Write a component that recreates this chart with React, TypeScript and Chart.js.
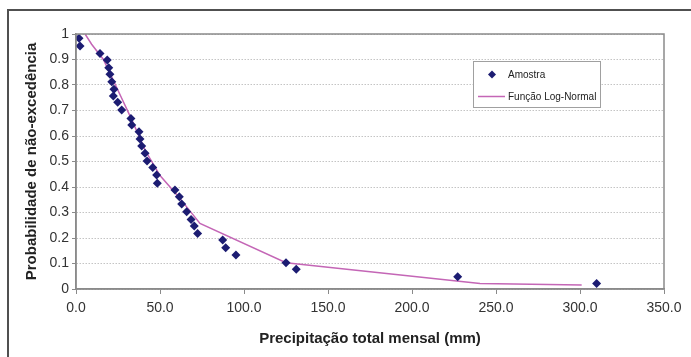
import React, { useEffect, useRef } from "react";
import { Chart, registerables } from "chart.js";

Chart.register(...registerables);

// Sample (Amostra) points: precipitation (mm) and non-exceedance probability
const sampleX = [1.8, 2.4, 14.3, 18.6, 19.5, 20.2, 21.3, 22.6, 22.2, 24.8, 27.2, 32.7, 33.2, 37.5, 38.1, 39.1, 41.1, 42.3, 45.7, 48.0, 48.4, 58.9, 61.5, 62.9, 65.9, 68.5, 70.4, 72.4, 87.3, 89.1, 95.2, 125.0, 131.1, 227.2, 309.9];
const sampleY = [0.983, 0.953, 0.924, 0.898, 0.868, 0.842, 0.813, 0.783, 0.757, 0.732, 0.702, 0.669, 0.643, 0.617, 0.588, 0.561, 0.532, 0.502, 0.476, 0.447, 0.415, 0.388, 0.362, 0.333, 0.303, 0.273, 0.247, 0.218, 0.192, 0.162, 0.133, 0.103, 0.077, 0.048, 0.022];

// Log-Normal function line
const fitX = [5.4, 9.3, 16.3, 24.2, 33.1, 41.1, 50.0, 60.0, 73.8, 125.0, 240.5, 301.0];
const fitY = [1.0, 0.96, 0.9, 0.79, 0.665, 0.545, 0.445, 0.37, 0.257, 0.103, 0.022, 0.016];

const seriesNames = ["Amostra", "Função Log-Normal"];
const xTitle = "Precipitação total mensal (mm)";
const yTitle = "Probabilidade de não-excedência";

const markerColor = "#1c1c72";
const lineColor = "#c466b6";
const fontFamily = "'Liberation Sans', Arial, sans-serif";

export default function App() {
  const ref = useRef<HTMLCanvasElement | null>(null);
  useEffect(() => {
    if (!ref.current) return;
    const frame = {
      id: "frame",
      afterDraw(chart: any) {
        const { ctx, chartArea } = chart;
        ctx.save();
        ctx.strokeStyle = "#8a8a8a";
        ctx.lineWidth = 1.5;
        ctx.strokeRect(chartArea.left, chartArea.top, chartArea.right - chartArea.left, chartArea.bottom - chartArea.top);
        // legend
        const lx = 473.5, ly = 61.5, lw = 127, lh = 46;
        ctx.fillStyle = "#ffffff";
        ctx.fillRect(lx, ly, lw, lh);
        ctx.strokeStyle = "#a0a0a0";
        ctx.lineWidth = 1;
        ctx.strokeRect(lx, ly, lw, lh);
        ctx.fillStyle = markerColor;
        ctx.beginPath();
        const dx = 492, dy = 74.5, r = 4;
        ctx.moveTo(dx, dy - r);
        ctx.lineTo(dx + r, dy);
        ctx.lineTo(dx, dy + r);
        ctx.lineTo(dx - r, dy);
        ctx.closePath();
        ctx.fill();
        ctx.strokeStyle = lineColor;
        ctx.lineWidth = 1.5;
        ctx.beginPath();
        ctx.moveTo(478, 96.5);
        ctx.lineTo(505, 96.5);
        ctx.stroke();
        ctx.fillStyle = "#222";
        ctx.font = "10px " + fontFamily;
        ctx.textBaseline = "middle";
        ctx.fillText(seriesNames[0], 508, 75);
        ctx.fillText(seriesNames[1], 508, 97);
        ctx.restore();
      },
    };
    const chart = new Chart(ref.current, {
      type: "scatter",
      data: {
        datasets: [
          {
            label: seriesNames[0],
            data: sampleX.map((x, i) => ({ x, y: sampleY[i] })),
            pointStyle: "rectRot",
            pointRadius: 4.5,
            backgroundColor: markerColor,
            borderColor: markerColor,
            borderWidth: 0,
            showLine: false,
          },
          {
            label: seriesNames[1],
            data: fitX.map((x, i) => ({ x, y: fitY[i] })),
            showLine: true,
            pointRadius: 0,
            borderColor: lineColor,
            borderWidth: 1.5,
            tension: 0,
          },
        ],
      },
      options: {
        animation: false,
        responsive: false,
        maintainAspectRatio: false,
        layout: { padding: { left: 23, right: 27, top: 34, bottom: 9 } },
        plugins: { legend: { display: false }, tooltip: { enabled: false } },
        scales: {
          x: {
            type: "linear",
            min: 0,
            max: 350,
            afterFit: (s: any) => { s.height = 357 - 289 - 9; },
            ticks: {
              stepSize: 50,
              callback: (v: any) => Number(v).toFixed(1),
              color: "#333",
              font: { family: fontFamily, size: 14 },
              padding: 6,
              maxRotation: 0,
            },
            grid: { drawOnChartArea: false, drawTicks: true, tickLength: 5, color: "#8a8a8a" },
            border: { color: "#8a8a8a", width: 1.5 },
            title: {
              display: true,
              text: xTitle,
              color: "#222",
              font: { family: fontFamily, size: 15, weight: "bold" },
              padding: { top: 2, bottom: 0 },
            },
          },
          y: {
            type: "linear",
            min: 0,
            max: 1,
            afterFit: (s: any) => { s.width = 76 - 23; },
            ticks: {
              stepSize: 0.1,
              callback: (v: any) => {
                const r = Math.round(Number(v) * 10) / 10;
                return r === 0 ? "0" : r === 1 ? "1" : r.toFixed(1);
              },
              color: "#333",
              font: { family: fontFamily, size: 14 },
              padding: 3,
            },
            grid: {
              color: "#c4c4c4",
              tickLength: 4,
              tickColor: "#8a8a8a",
              lineWidth: 1,
            } as any,
            border: { color: "#8a8a8a", width: 1.5, dash: [1.5, 1.5] } as any,
            title: {
              display: true,
              text: yTitle,
              color: "#222",
              font: { family: fontFamily, size: 15, weight: "bold" },
              padding: { top: 0, bottom: 0 },
            },
          },
        },
      },
      plugins: [frame],
    } as any);
    return () => chart.destroy();
  }, []);
  return (
    <div style={{ position: "fixed", left: 0, top: 0, width: 691, height: 357, overflow: "hidden", background: "#fff" }}>
      <div style={{ position: "absolute", left: 7, top: 9, width: 720, height: 420, border: "2px solid #505050", boxSizing: "border-box" }} />
      <canvas ref={ref} width={691} height={357} style={{ position: "absolute", left: 0, top: 0, width: 691, height: 357 }} />
    </div>
  );
}
